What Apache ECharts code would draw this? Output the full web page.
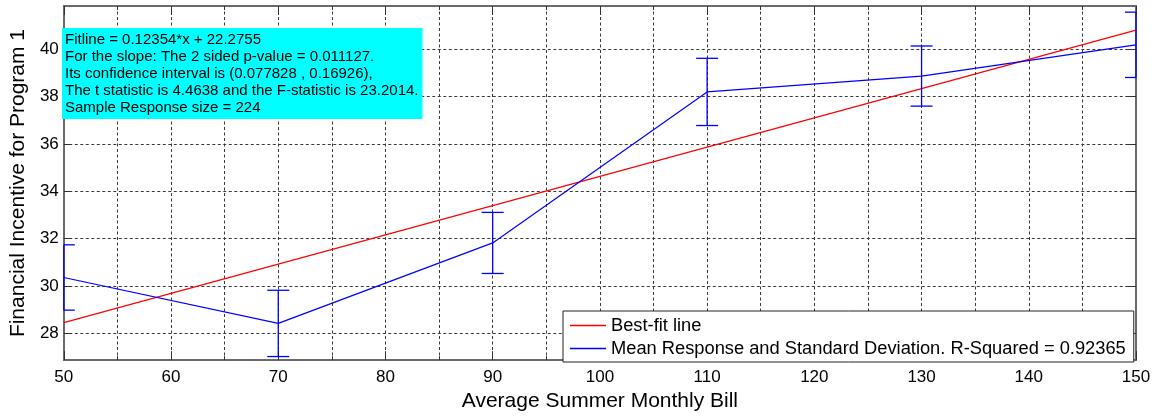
<!DOCTYPE html>
<html>
<head>
<meta charset="utf-8">
<script src="https://cdn.jsdelivr.net/npm/echarts@6/dist/echarts.min.js"></script>
<style>
html,body{margin:0;padding:0;background:#fff;}
#chart{width:1156px;height:417px;}
</style>
</head>
<body>
<div id="chart"></div>
<script>
// ---- data ----
const billLevels = [50, 70, 90, 110, 130, 150];
const meanResponse = [30.36, 28.42, 31.82, 38.20, 38.87, 40.19];
const stdDeviation = [1.38, 1.40, 1.29, 1.42, 1.27, 1.38];
const fitX = [50, 150];
const fitY = [28.45, 40.81];
const xTickLabels = [50, 60, 70, 80, 90, 100, 110, 120, 130, 140, 150];
const yTickLabels = [28, 30, 32, 34, 36, 38, 40];
const annotationLines = [
  'Fitline = 0.12354*x + 22.2755',
  'For the slope: The 2 sided p-value = 0.011127.',
  'Its confidence interval is (0.077828 , 0.16926),',
  'The t statistic is 4.4638 and the F-statistic is 23.2014.',
  'Sample Response size = 224'
];
const fitName = 'Best-fit line';
const meanName = 'Mean Response and Standard Deviation. R-Squared = 0.92365';

const FONT = '"Liberation Sans", Arial, Helvetica, sans-serif';
const FRAME = {show: true, onZero: false, lineStyle: {color: '#6a6a6a', width: 2}};
const GRIDLINE = {color: '#3a3a3a', width: 1, type: [3, 2.5]};

const chart = echarts.init(document.getElementById('chart'), null, {renderer: 'canvas'});

function errorBar(params, api) {
  const x = api.value(0), m = api.value(1), s = api.value(2);
  const top = api.coord([x, m + s]);
  const bot = api.coord([x, m - s]);
  const cs = params.coordSys;
  const hw = 11;
  const l = Math.max(top[0] - hw, cs.x);
  const r = Math.min(top[0] + hw, cs.x + cs.width);
  const style = {stroke: '#0000ff', lineWidth: 1.3, fill: null};
  return {
    type: 'group',
    children: [
      {type: 'line', shape: {x1: top[0], y1: top[1], x2: bot[0], y2: bot[1]}, style: style},
      {type: 'line', shape: {x1: l, y1: top[1], x2: r, y2: top[1]}, style: style},
      {type: 'line', shape: {x1: l, y1: bot[1], x2: r, y2: bot[1]}, style: style}
    ]
  };
}

const xRange = {min: xTickLabels[0], max: xTickLabels[xTickLabels.length - 1], interval: 10};
const yRange = {min: 26.87, max: 41.83, minInterval: 1, maxInterval: 1, splitNumber: 15};

const option = {
  backgroundColor: '#ffffff',
  animation: false,
  textStyle: {fontFamily: FONT},
  title: {
    text: annotationLines.join('\n'),
    left: 62,
    top: 28,
    padding: [3, 4, 3, 3],
    backgroundColor: '#00ffff',
    textStyle: {fontFamily: FONT, fontSize: 15, fontWeight: 'normal', color: '#000', lineHeight: 17}
  },
  legend: {
    data: [fitName, meanName],
    orient: 'vertical',
    left: 563,
    top: 311,
    backgroundColor: '#ffffff',
    borderColor: '#222',
    borderWidth: 1,
    borderRadius: 0,
    padding: [4, 8, 3, 7],
    itemGap: 2,
    icon: 'rect',
    itemWidth: 36,
    itemHeight: 1.3,
    textStyle: {fontFamily: FONT, fontSize: 18.3, color: '#000', lineHeight: 21},
    selectedMode: false
  },
  grid: {left: 63, right: 20, top: 6, bottom: 52, containLabel: false},
  xAxis: [
    Object.assign({
      type: 'value',
      position: 'bottom',
      name: 'Average Summer Monthly Bill',
      nameLocation: 'middle',
      nameGap: 29,
      nameTextStyle: {fontFamily: FONT, fontSize: 21, color: '#000'},
      axisLine: FRAME,
      axisTick: {show: true, inside: true, length: 9, lineStyle: {color: '#333'}},
      minorTick: {show: true, splitNumber: 2, length: 4, lineStyle: {color: '#333'}},
      axisLabel: {
        fontFamily: FONT, fontSize: 17, color: '#000', margin: 9,
        formatter: v => (xTickLabels.indexOf(v) >= 0 ? String(v) : '')
      },
      splitLine: {show: true, lineStyle: GRIDLINE},
      minorSplitLine: {show: true, lineStyle: GRIDLINE}
    }, xRange),
    Object.assign({
      type: 'value',
      position: 'top',
      axisLine: FRAME,
      axisTick: {show: true, inside: true, length: 9, lineStyle: {color: '#333'}},
      minorTick: {show: true, splitNumber: 2, length: 4, lineStyle: {color: '#333'}},
      axisLabel: {show: false},
      splitLine: {show: false}
    }, xRange)
  ],
  yAxis: [
    Object.assign({
      type: 'value',
      position: 'left',
      name: 'Financial Incentive for Program 1',
      nameLocation: 'middle',
      nameGap: 30,
      nameTextStyle: {fontFamily: FONT, fontSize: 21, color: '#000'},
      axisLine: FRAME,
      axisTick: {show: true, inside: true, length: 8, lineStyle: {color: '#333'}, customValues: yTickLabels},
      axisLabel: {
        fontFamily: FONT, fontSize: 17, color: '#000', margin: 5,
        customValues: yTickLabels,
        formatter: v => String(v)
      },
      splitLine: {show: true, lineStyle: GRIDLINE}
    }, yRange),
    Object.assign({
      type: 'value',
      position: 'right',
      axisLine: FRAME,
      axisTick: {show: true, inside: true, length: 8, lineStyle: {color: '#333'}, customValues: yTickLabels},
      axisLabel: {show: false},
      splitLine: {show: false}
    }, yRange)
  ],
  series: [
    {
      name: fitName,
      type: 'line',
      xAxisIndex: 0,
      yAxisIndex: 0,
      data: fitX.map((x, i) => [x, fitY[i]]),
      symbol: 'none',
      lineStyle: {color: '#ff0000', width: 1.2},
      itemStyle: {color: '#ff0000'},
      z: 3
    },
    {
      name: meanName,
      type: 'line',
      xAxisIndex: 0,
      yAxisIndex: 0,
      data: billLevels.map((x, i) => [x, meanResponse[i]]),
      symbol: 'none',
      lineStyle: {color: '#0000ff', width: 1.2},
      itemStyle: {color: '#0000ff'},
      z: 4
    },
    {
      name: 'errorbars',
      type: 'custom',
      xAxisIndex: 0,
      yAxisIndex: 0,
      renderItem: errorBar,
      data: billLevels.map((x, i) => [x, meanResponse[i], stdDeviation[i]]),
      encode: {x: 0, y: 1},
      z: 4
    }
  ]
};
chart.setOption(option);
</script>
</body>
</html>
